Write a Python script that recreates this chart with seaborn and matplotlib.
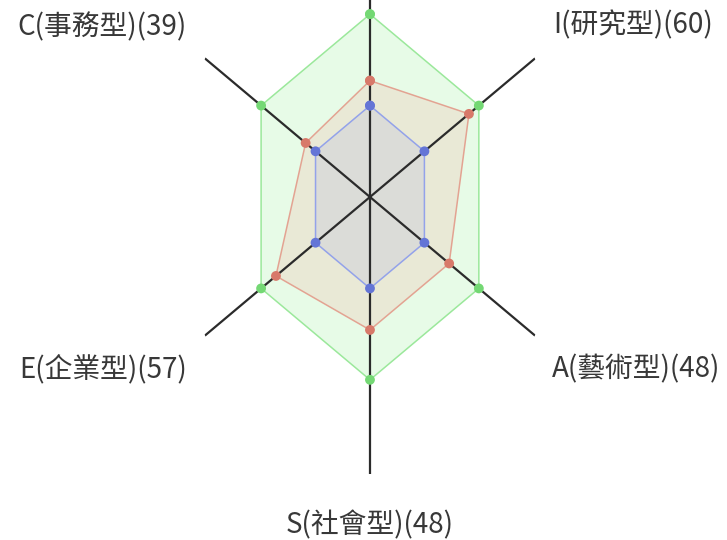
import matplotlib
matplotlib.use('Agg')
import matplotlib.pyplot as plt
import numpy as np
import pandas as pd
import seaborn as sns

# Holland code (RIASEC) radar, clockwise from the top
codes = ['R', 'I', 'A', 'S', 'E', 'C']
names = ['實用型', '研究型', '藝術型', '社會型', '企業型', '事務型']
scores = [42, 60, 48, 48, 57, 39]
upper = [66, 66, 66, 66, 66, 66]
lower = [33, 33, 33, 33, 33, 33]
r_max = 100

sns.set_theme(style='white')
plt.rcParams['font.family'] = ['Noto Sans CJK TC', 'DejaVu Sans']

angles = np.linspace(0, 2 * np.pi, len(codes), endpoint=False)

series = {'upper': upper, 'score': scores, 'lower': lower}
line_colors = {'upper': '#9be89b', 'score': '#e3a392', 'lower': '#93a2ea'}
fill_colors = {'upper': '#a0f0a0', 'score': '#f2b4a4', 'lower': '#b4b8e0'}
dot_colors = {'upper': '#74d874', 'score': '#d8796a', 'lower': '#6475d6'}

rows = []
for name, vals in series.items():
    for k, (a, v) in enumerate(zip(list(angles) + [angles[0]], vals + [vals[0]])):
        rows.append({'series': name, 'angle': a, 'value': v, 'order': k})
df = pd.DataFrame(rows)

fig = plt.figure(figsize=(7.27, 5.4), dpi=100)
ax = fig.add_axes([0.2469, 0.1222, 0.524, 1.026], projection='polar')
ax.set_theta_zero_location('N')
ax.set_theta_direction(-1)
ax.set_aspect('auto')

for name in series:
    d = df[df['series'] == name]
    ax.fill(d['angle'], d['value'], color=fill_colors[name], alpha=0.25, lw=0, zorder=1)

sns.lineplot(data=df, x='angle', y='value', hue='series', units='series',
             sort=False, estimator=None, palette=line_colors, lw=1.1,
             legend=False, ax=ax, zorder=2)

# spokes
for a in angles:
    ax.plot([a, a], [0, r_max], color='#2b2b2b', lw=1.6, zorder=3)

sns.scatterplot(data=df, x='angle', y='value', hue='series', palette=dot_colors,
                s=50, linewidth=0, legend=False, ax=ax, zorder=4)

# the top (R) label sits above the visible canvas in the reference, so only
# the other five are drawn
offsets = [None, (18, 33, 'left'), (17, -34, 'left'),
           (0, -51, 'center'), (-18, -34, 'right'), (-18, 31, 'right')]
for a, c, n, s, off in zip(angles, codes, names, scores, offsets):
    if off is None:
        continue
    dx, dy, ha = off
    ax.annotate(f'{c}({n})({s})', xy=(a, r_max), xytext=(dx, dy),
                textcoords='offset pixels', ha=ha, va='center',
                fontsize=20, color='#383838', annotation_clip=False)

ax.set_ylim(0, r_max)
ax.set_xticks([])
ax.set_yticks([])
ax.set_xlabel('')
ax.set_ylabel('')
ax.grid(False)
ax.spines['polar'].set_visible(False)
ax.patch.set_alpha(0)

fig.savefig('out.png', dpi=100)
